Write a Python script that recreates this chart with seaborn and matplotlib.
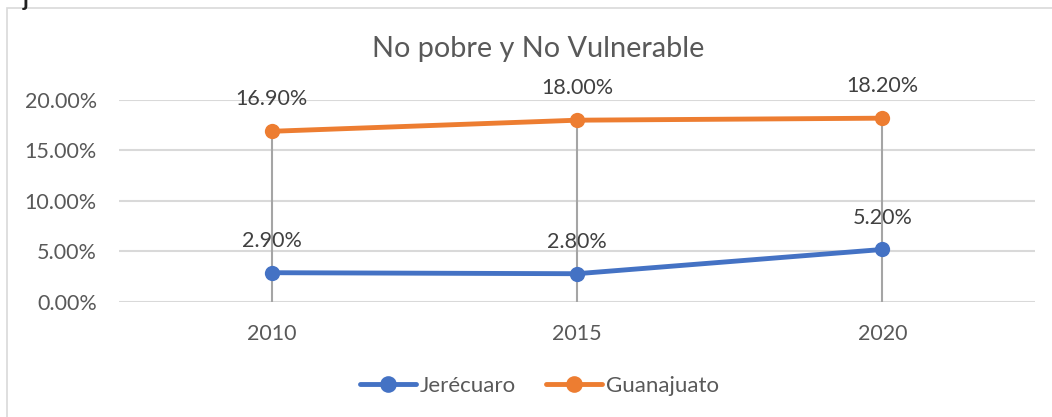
import pandas as pd
import matplotlib
matplotlib.use("Agg")
import matplotlib.pyplot as plt
import matplotlib.patches as patches
from matplotlib.ticker import PercentFormatter
import seaborn as sns

# chart data
years = ["2010", "2015", "2020"]
jerecuaro = [2.90, 2.80, 5.20]
guanajuato = [16.90, 18.00, 18.20]
series_names = ["Jerécuaro", "Guanajuato"]
colors = ["#4472C4", "#ED7D31"]

df = pd.DataFrame({
    "year": years * 2,
    "value": jerecuaro + guanajuato,
    "serie": [series_names[0]] * 3 + [series_names[1]] * 3,
})
df["pos"] = df["year"].map({y: i for i, y in enumerate(years)})

sns.set_theme(style="whitegrid")
plt.rcParams["font.family"] = ["Lato", "DejaVu Sans"]

fig = plt.figure(figsize=(10.52, 4.17), dpi=100)
ax = fig.add_axes([0.1131, 0.2758, 0.8707, 0.4844])

# chart border (cut off at the right / bottom like the screenshot)
fig.patches.append(patches.Rectangle((7 / 1052, -0.05), 1.1, 1 - 8 / 417 + 0.05,
                                     transform=fig.transFigure, fill=False,
                                     edgecolor="#D9D9D9", linewidth=1.2))
fig.text(0.022, 1.0, "j", fontsize=16, fontweight="bold", color="#202020",
         ha="left", va="center")

# drop lines
tops = [max(a, b) for a, b in zip(jerecuaro, guanajuato)]
ax.vlines(range(len(years)), 0, tops, color="#A5A5A5", linewidth=1.5, zorder=1)

sns.lineplot(data=df, x="pos", y="value", hue="serie", palette=colors,
             marker="o", markersize=11, markeredgewidth=0, linewidth=3.5,
             ax=ax, zorder=3)

for vals in (jerecuaro, guanajuato):
    for i, v in enumerate(vals):
        ax.annotate(f"{v:.2f}%", (i, v), xytext=(0, 23), textcoords="offset points",
                    ha="center", va="center", fontsize=15.5, color="#404040")

ax.set_xlim(-0.5, 2.5)
ax.set_ylim(0, 20)
ax.set_yticks([0, 5, 10, 15, 20])
ax.yaxis.set_major_formatter(PercentFormatter(decimals=2))
ax.set_xticks(range(len(years)))
ax.set_xticklabels(years)
ax.tick_params(axis="both", labelsize=15.5, colors="#595959", length=0)
ax.tick_params(axis="x", pad=16)
ax.tick_params(axis="y", pad=16)
ax.grid(axis="x", visible=False)
ax.grid(axis="y", color="#D9D9D9", linewidth=1.5)
for s in ax.spines.values():
    s.set_visible(False)
ax.set_xlabel("")
ax.set_ylabel("")

fig.text(0.512, 0.882, "No pobre y No Vulnerable", fontsize=20.8, color="#595959",
         ha="center", va="center")

handles, labels = ax.get_legend_handles_labels()
for h in handles:
    h.set_markersize(12)
ax.legend(handles, labels, loc="center", bbox_to_anchor=(0.513, 0.075),
          bbox_transform=fig.transFigure, ncol=2, frameon=False, fontsize=16,
          labelcolor="#595959", handlelength=2.5, handletextpad=0.2, columnspacing=1.35)

fig.savefig("out.png", dpi=100)
